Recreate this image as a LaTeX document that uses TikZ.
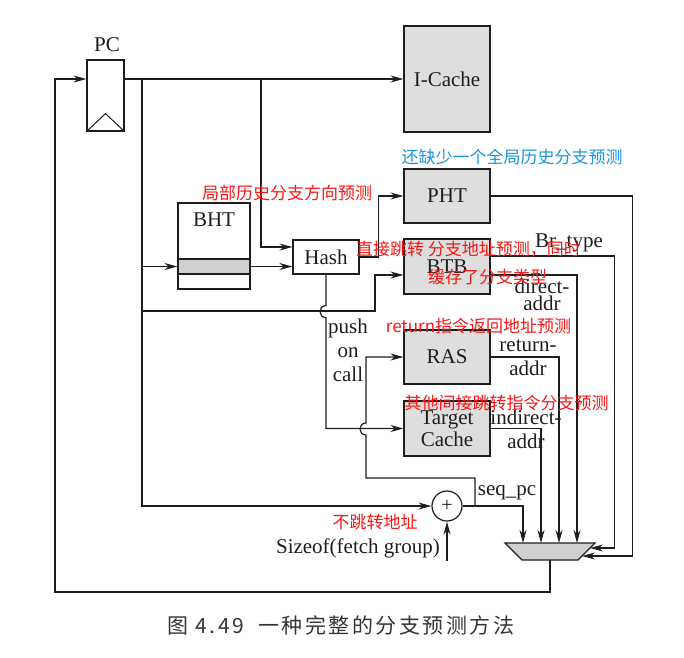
\documentclass[tikz,border=0pt]{standalone}
\usepackage{fontspec}
\setmainfont{Liberation Serif}
\newfontfamily\cjk{Noto Sans CJK SC}
\newfontfamily\capfont[LetterSpace=12]{Noto Sans CJK SC}
\usepackage{tikz}
\usetikzlibrary{arrows.meta}
\usetikzlibrary{positioning}

\definecolor{ink}{RGB}{30,30,30}
\definecolor{boxgray}{RGB}{222,222,222}
\definecolor{bandgray}{RGB}{208,208,208}
\definecolor{notered}{RGB}{255,20,20}
\definecolor{noteblue}{RGB}{25,150,225}

\begin{document}
\begin{tikzpicture}[x=1pt, y=-1pt, ->, >={Stealth[length=13pt,width=7pt]}, line width=1.2pt, color=ink]
    \tikzstyle{unit}=[draw, fill=boxgray, minimum width=86pt, inner sep=0pt, font=\fontsize{21}{22}\selectfont]
    \tikzstyle{sig}=[inner sep=0pt, align=center, font=\fontsize{21}{24}\selectfont]
    \tikzstyle{note}=[inner sep=0pt, text=notered, font=\cjk\fontsize{17}{17}\selectfont]
    \path[use as bounding box] (0,0) rectangle (684,657);

    % blocks
    \node[draw, minimum width=37pt, minimum height=71pt] (pc) at (105.5,95.5) {};
    \node[sig]  (pclabel) at (107,45)   {PC};
    \node[unit, minimum height=106pt] (icache) at (447,79)   {I-Cache};
    \node[unit, minimum height=54pt]  (pht)    at (447,196)  {PHT};
    \node[unit, minimum height=55pt]  (btb)    at (447,266.5) {BTB};
    \node[unit, minimum height=54pt]  (ras)    at (447,357)  {RAS};
    \node[unit, minimum height=55pt, align=center] (tcache) at (447,428.5) {Target\\Cache};
    \node[draw, fill=white, minimum width=72pt, minimum height=86pt] (bht) at (214,246) {};
    \node[draw, fill=bandgray, minimum width=72pt, minimum height=15pt] (bhtrow) at (214,266.5) {};
    \node[sig, below=10pt of bht.north] (bhtlabel) {BHT};
    \node[draw, fill=white, minimum width=66pt, minimum height=34pt, inner sep=0pt,
          font=\fontsize{21}{22}\selectfont] (hash) at (326,257) {Hash};
    \node[draw, circle, minimum size=30pt, inner sep=0pt, font=\fontsize{20}{20}\selectfont] (add) at (447,506) {+};

    % the mux
    \coordinate (muxnw) at (505,543);
    \coordinate (muxne) at (595,543);
    \coordinate (muxse) at (578,560);
    \coordinate (muxsw) at (522,560);
    \coordinate (muxout) at (550,560);
    \coordinate (muxr1) at (590,548);
    \coordinate (muxr2) at (582,556);
    \draw[-, fill=bandgray] (muxnw) -- (muxne) -- (muxse) -- (muxsw) -- cycle;

    % signal labels
    \node[sig] (brtype)  at (569,243) {Br\_type};
    \node[sig, font=\fontsize{21}{17}\selectfont] (direct) at (542,295) {direct-\\addr};
    \node[sig] (retaddr) at (528,358) {return-\\addr};
    \node[sig] (indaddr) at (526,429) {indirect-\\addr};
    \node[sig] (push)    at (348,350) {push\\on\\call};
    \node[sig] (seqpc)   at (507,493) {seq\_pc};
    \node[sig] (sizeof)  at (358,548) {Sizeof(fetch group)};

    \coordinate (tapa) at (142,0 |- icache.west);
    \coordinate (tapb) at (261,0 |- icache.west);
    \coordinate (seqj) at (475,0 |- add.east);
    \coordinate (szin) at (447,561);
    \coordinate (ret)  at (55,592);

    % fetch address
    \draw (pc.east |- icache.west) -- (icache.west);
    \draw (tapa) |- (add.west);
    \draw (tapa |- bhtrow.west) -- (bhtrow.west);
    \draw (tapb) |- ([yshift=10pt]hash.west);
    \draw (bhtrow.east) -- (bhtrow.east -| hash.west);
    \draw (tapa |- 0,311) -- ++(233,0) |- ([yshift=-8.5pt]btb.west);
    \draw (hash.east) -- ++(19,0) |- (pht.west);
    \draw (hash.south) -- ++(0,31) .. controls +(-8,0) and +(-8,0) .. ++(0,12) |- (tcache.west);
    \draw (seqj) -- ++(0,-28) -- ++(-109,0) -- ++(0,-43)
          .. controls +(-8,0) and +(-8,0) .. ++(0,-12) |- (ras.west);
    \draw (szin) -- (add.south);

    % to the mux
    \draw (add.east) -| (523,0 |- muxnw);
    \draw (tcache.east) -| (541,0 |- muxnw);
    \draw (ras.east) -| (559,0 |- muxnw);
    \draw ([yshift=-8.5pt]btb.east) -| (577,0 |- muxnw);
    \draw ([yshift=10.5pt]btb.east) -- ++(124,0) |- (muxr1);
    \draw (pht.east) -- ++(142,0) |- (muxr2);
    \draw (muxout) |- (ret) |- (pc.west |- icache.west);

    % PC clock mark
    \draw[-, line width=1pt] (pc.south west) -- ([yshift=18pt]pc.south) -- (pc.south east);

    % notes
    \node[note, text=noteblue] (n1) at (512,157)   {还缺少一个全局历史分支预测};
    \node[note] (n2) at (287,193)   {局部历史分支方向预测};
    \node[note] (n3) at (468.5,249) {直接跳转 分支地址预测，同时};
    \node[note] (n4) at (487.5,277) {缓存了分支类型};
    \node[note] (n5) at (478.5,326) {return指令返回地址预测};
    \node[note] (n6) at (506.5,403) {其他间接跳转指令分支预测};
    \node[note] (n7) at (375,522)   {不跳转地址};

    \node[font=\capfont\fontsize{21}{21}\selectfont, text=ink!90] (caption) at (341,625)
          {图 4.49\hspace{14pt}一种完整的分支预测方法};
\end{tikzpicture}
\end{document}
